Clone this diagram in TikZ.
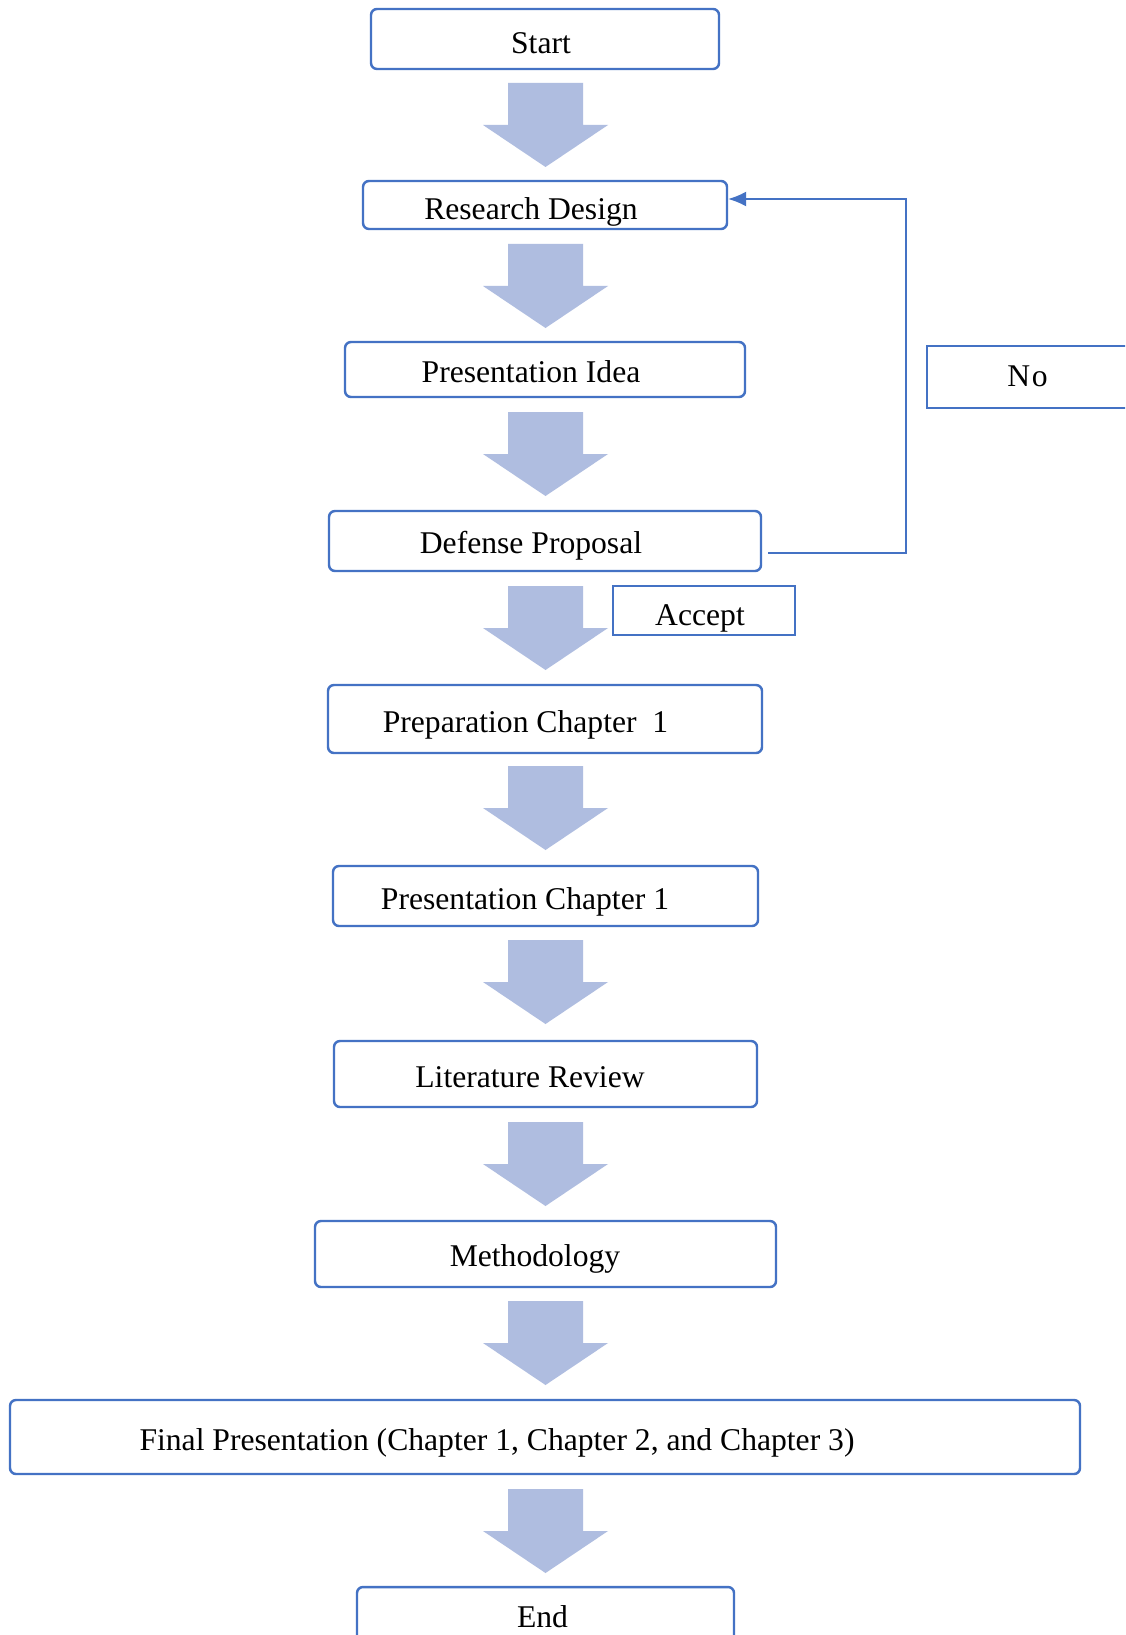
\documentclass[tikz,border=0pt]{standalone}
\usepackage{fontspec}
\setmainfont{Liberation Serif}
\usetikzlibrary{arrows.meta}
\definecolor{boxblue}{HTML}{4472C4}
\definecolor{arrfill}{HTML}{AFBDE0}
\newcommand{\blockarr}[1]{\fill[arrfill] (508,#1) -- ++(75,0) -- ++(0,42) -- ++(25,0) -- ++(-62.5,42) -- ++(-62.5,-42) -- ++(25,0) -- cycle;}
\begin{document}
\begin{tikzpicture}[x=0.02cm,y=-0.02cm,
  sz/.style 2 args={minimum width=#1*0.02cm, minimum height=#2*0.02cm},
  flowbox/.style={draw=boxblue, line width=1.4pt, rounded corners=0.12cm, inner sep=0pt},
  sqbox/.style={draw=boxblue, line width=1.1pt, inner sep=0pt},
  lbl/.style={inner sep=0pt, text height=0.66em, text depth=0pt, font=\fontsize{18}{21}\selectfont},
  fb/.style={draw=boxblue, line width=0.85pt}]
\clip (0,0) rectangle (1125,1635);
\fill[white] (0,0) rectangle (1125,1635);
% boxes
\node[flowbox, sz={348}{60}] (start) at (545,39) {};
\node[flowbox, sz={364}{48}] (rd) at (545,205) {};
\node[flowbox, sz={400}{55}] (pi) at (545,369.5) {};
\node[flowbox, sz={432}{60}] (dp) at (545,541) {};
\node[sqbox, sz={182}{49}] (acc) at (704,610.5) {};
\node[flowbox, sz={434}{68}] (pc) at (545,719) {};
\node[flowbox, sz={425}{60}] (prc) at (545.5,896) {};
\node[flowbox, sz={423}{66}] (lr) at (545.5,1074) {};
\node[flowbox, sz={461}{66}] (meth) at (545.5,1254) {};
\node[flowbox, sz={1070}{74}] (fin) at (545,1437) {};
\node[flowbox, sz={377}{93}] (end) at (545.5,1633.5) {};
\node[sqbox, sz={213}{62}] (no) at (1033.5,377) {};
% texts
\node[lbl] (tstart) at (541,48) {Start};
\node[lbl] (trd) at (531,214) {Research Design};
\node[lbl] (tpi) at (531,377) {Presentation Idea};
\node[lbl] (tdp) at (531,548) {Defense Proposal};
\node[lbl] (tacc) at (700,620) {Accept};
\node[lbl] (tpc) at (525.5,727) {Preparation Chapter\ \ 1};
\node[lbl] (tprc) at (525,904) {Presentation Chapter 1};
\node[lbl] (tlr) at (530,1082) {Literature Review};
\node[lbl] (tmeth) at (535,1261) {Methodology};
\node[lbl] (tfin) at (497,1445) {Final Presentation (Chapter 1, Chapter 2, and Chapter 3)};
\node[lbl] (tend) at (542.5,1622) {End};
\node[lbl] (tno) at (1027.5,381) {N\kern1pt o};
% block arrows
\blockarr{83}
\blockarr{244}
\blockarr{412}
\blockarr{586}
\blockarr{766}
\blockarr{940}
\blockarr{1122}
\blockarr{1301}
\blockarr{1489}
% feedback loop
\coordinate (fbstart) at (768,553);
\coordinate (fbcorner) at (906,199);
\draw[fb, -{Latex[length=0.36cm,width=0.3cm]}] (fbstart) -| (fbcorner) -- (rd.east |- fbcorner);
\end{tikzpicture}
\end{document}
